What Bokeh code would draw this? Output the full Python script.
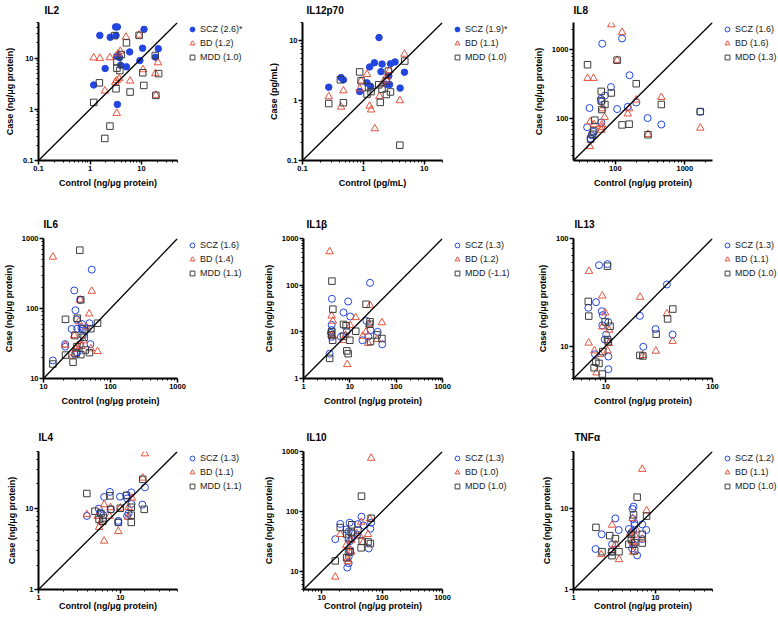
import math
from bokeh.plotting import figure
from bokeh.layouts import column, row
from bokeh.models import (FixedTicker, NumeralTickFormatter, Legend, LegendItem, Slope)
from bokeh.embed import file_html
from bokeh.resources import INLINE

# ---------------- data ----------------
il2_scz_x = [1.55, 2.47, 3.14, 3.4, 3.2, 11.2, 21.2, 10.5, 5.9, 3.5, 3.3, 3.76, 18.7, 9.3, 3.93, 5.1, 1.97, 1.18, 3.4]
il2_scz_y = [28, 25.7, 41, 41, 28, 36.7, 15.4, 15.7, 13.3, 11.4, 10.9, 10.3, 10.5, 9.0, 7.3, 6.8, 6.3, 3.0, 1.25]
il2_bd_x = [1.18, 1.55, 2.44, 5.0, 9.0, 3.87, 3.5, 20.9, 10.7, 18.5, 3.7, 3.3, 3.1, 6.0, 1.94, 19, 3.3]
il2_bd_y = [10.2, 10, 10.3, 26, 28.5, 13.7, 12.3, 8.2, 6.0, 5.0, 4.0, 3.7, 3.4, 3.6, 2.3, 1.9, 0.84]
il2_mdd_x = [9.0, 5.1, 3.0, 4.06, 18.5, 3.33, 3.33, 3.8, 10.6, 21.5, 1.52, 3.2, 6.0, 11.1, 19, 1.18, 2.44, 1.94]
il2_mdd_y = [28, 20, 27.7, 11.8, 11.3, 8.5, 6.4, 5.75, 5.2, 5.0, 3.3, 2.53, 2.18, 2.94, 1.88, 1.37, 0.47, 0.27]

il12_scz_x = [1.81, 3.32, 1.52, 2.79, 2.03, 1.27, 1.95, 4.74, 2.62, 0.43, 0.47, 1.15, 2.39, 2.7, 1.32, 0.27, 4.02, 0.87]
il12_scz_y = [11.2, 4.4, 4.26, 4.1, 4.06, 3.63, 3.03, 2.96, 2.57, 2.41, 2.21, 1.97, 1.87, 1.85, 1.71, 1.67, 1.61, 1.41]
il12_bd_x = [4.74, 1.15, 0.92, 2.4, 2.7, 0.47, 0.87, 2.03, 0.27, 1.84, 3.98, 0.43, 1.27, 1.34, 1.54, 2.4]
il12_bd_y = [5.95, 2.74, 2.13, 2.55, 3.16, 1.46, 1.57, 1.9, 1.16, 1.17, 1.0, 0.78, 0.81, 0.70, 0.34, 2.2]
il12_mdd_x = [4.8, 0.87, 2.58, 0.42, 0.92, 2.39, 1.79, 1.22, 2.03, 1.34, 2.79, 1.15, 2.39, 0.27, 0.47, 1.9, 3.98]
il12_mdd_y = [4.55, 3.0, 3.1, 2.22, 2.13, 2.13, 1.83, 1.69, 1.55, 1.41, 1.39, 1.28, 1.26, 0.89, 0.92, 0.93, 0.18]

il8_scz_x = [64.8, 125, 160, 86.5, 70.8, 62, 64, 106, 42.5, 200, 151, 291, 459, 1667, 39.3, 63, 48.5, 45.4, 44]
il8_scz_y = [1232, 1468, 430, 290, 218, 195, 179, 139, 144, 173, 150, 103, 83, 127, 76, 89, 65, 58, 52]
il8_bd_x = [87.5, 125, 106, 39.8, 48.5, 459, 200, 158, 151, 64.8, 70, 43.5, 49.6, 64, 64, 63, 295, 1667, 43]
il8_bd_y = [2327, 1807, 711, 389, 389, 206, 189, 141, 119, 141, 106, 91, 83, 83, 76, 69, 60, 74, 40]
il8_mdd_x = [106, 39.8, 200, 62.7, 87.5, 70.8, 62.7, 459, 1667, 125, 158, 50.7, 49, 47, 44, 295, 64]
il8_mdd_y = [711, 611, 324, 251, 238, 162, 183, 162, 128, 82, 84, 96, 67, 60, 51, 59, 137]

il6_scz_x = [52.5, 28.8, 35.2, 30, 31.5, 37.6, 48.5, 26.3, 31.8, 36.8, 42, 50.2, 21.1, 21.1, 35.2, 32, 29.4, 13.8, 38.5]
il6_scz_y = [359, 181, 133, 94.6, 69.5, 60, 61.6, 51, 51.5, 52.8, 48.3, 31, 31, 28.5, 31, 23.6, 21.9, 18.1, 41]
il6_bd_x = [13.8, 52.5, 35.2, 48, 33.6, 43.5, 28.8, 39.8, 21.1, 31.5, 36.8, 51, 64.1, 27, 30]
il6_bd_y = [545, 177, 133, 84, 65, 55, 41.4, 34.7, 30, 28.8, 28.8, 26.7, 24.4, 20.9, 26.3]
il6_mdd_x = [34.8, 36, 21.3, 32, 64.1, 51, 38.5, 40.3, 29.4, 31.5, 42, 48.5, 36, 30.7, 21.3, 27.6, 13.8]
il6_mdd_y = [681, 133, 70, 72.6, 61.6, 51.6, 51, 38.8, 41, 28.5, 25.5, 23.4, 21.9, 22.8, 21.6, 17.1, 16.1]

il1b_scz_x = [27.3, 4.1, 9.2, 7.3, 10.2, 22.8, 4.05, 4.05, 3.9, 8.6, 28, 39.8, 25, 18.7, 50, 3.67, 4.05, 6.4]
il1b_scz_y = [112, 51, 44.7, 26, 21.3, 17.2, 14.1, 10.9, 9.5, 10.2, 10.9, 10, 7.9, 6.6, 5.4, 3.4, 7.8, 7.8]
il1b_bd_x = [3.67, 27.3, 4.05, 4.3, 13.4, 49.3, 26, 10.2, 22.4, 19, 4.05, 4.3, 8.1, 38.5, 25, 7.2, 8.8]
il1b_bd_y = [525, 36.7, 22, 17, 20.3, 15.8, 14.4, 13.7, 10, 8.1, 8.6, 8.1, 8.5, 6.9, 5.7, 6.6, 2.0]
il1b_mdd_x = [4.1, 22.4, 4.3, 27.3, 26.8, 7.3, 8.3, 13.4, 4.05, 4.05, 7.3, 4.25, 10, 49.3, 38.5, 28, 8.6, 9.2, 3.67]
il1b_mdd_y = [122, 39, 30.6, 16.4, 14.5, 14.4, 13.5, 10.3, 10, 8.6, 8.1, 6.6, 6.6, 7.2, 8.6, 6.2, 3.9, 3.4, 2.7]

il13_scz_x = [37.4, 8.67, 10.4, 8.13, 6.88, 9.2, 9.4, 20.9, 10.6, 9.3, 29.3, 10.1, 42.3, 9.8, 22.5, 7.95, 10.6, 10.6]
il13_scz_y = [37.4, 56.5, 57.8, 25.6, 22.7, 21.1, 19.4, 19.1, 16.7, 15.6, 14.4, 12.8, 12.8, 11.5, 9.86, 8.4, 8.0, 6.1]
il13_bd_x = [6.98, 9.3, 21, 9.9, 37.4, 9.3, 10.8, 6.94, 42.3, 10.7, 10.4, 7.84, 29.5, 8.9, 22.3, 8.2]
il13_bd_y = [49.7, 29.3, 28.5, 20.4, 20, 15.1, 14.1, 10.7, 11.1, 10.6, 9.06, 9.06, 9.0, 8.4, 8.2, 5.65]
il13_mdd_x = [6.88, 10.4, 6.94, 42.5, 38, 9.9, 11, 29.7, 10.4, 10.6, 9.4, 20.9, 22.3, 8.1, 8.66, 7.8, 9.3]
il13_mdd_y = [26, 55.3, 19, 22.1, 17.9, 16.8, 15.3, 12.9, 11.5, 11, 8.9, 8.2, 8.1, 7.1, 6.9, 6.3, 5.5]

il4_scz_x = [20, 7.45, 6.34, 9.9, 13.6, 11.9, 12.1, 13.7, 18.6, 5.44, 5.65, 6.2, 3.9, 7.7, 12.1, 9.45, 9.45, 12.6]
il4_scz_y = [18.1, 15.9, 13.8, 13.9, 15.7, 14.4, 13.2, 11.3, 11.1, 9.9, 8.85, 8.2, 8.05, 9.7, 8.05, 7.0, 6.7, 8.6]
il4_bd_x = [20, 18.8, 3.9, 6.34, 7.6, 10, 12.6, 13.9, 5.3, 7.4, 12.4, 5.8, 5.5, 9.45, 6.34]
il4_bd_y = [47, 23.6, 8.4, 11.1, 10.2, 10.1, 10.3, 13.4, 8.0, 8.0, 7.8, 6.8, 5.84, 5.2, 3.96]
il4_mdd_x = [3.9, 7.45, 11.9, 18.8, 4.9, 7.6, 10, 13.6, 19.6, 5.8, 13.6, 5.5, 6.1, 9.45, 13.6, 6.2]
il4_mdd_y = [15.2, 14.2, 14.4, 22.7, 9.2, 9.7, 10, 10.3, 9.7, 8.6, 8.2, 7.3, 6.9, 6.7, 6.7, 7.6]

il10_scz_x = [45.6, 20.3, 29, 39.7, 49.2, 65.9, 64, 25.5, 28, 39, 16.8, 31.6, 29.3, 60, 28, 28, 26.5, 32.8, 29.6]
il10_scz_y = [82, 62, 65, 61.5, 58.5, 65, 51.5, 50, 46.5, 41, 34.5, 35.3, 32, 24.2, 17.7, 13.7, 11.6, 42.7, 22.7]
il10_bd_x = [65.9, 20.3, 45, 63, 37.7, 42.8, 58.5, 30.9, 48.5, 25.5, 28, 30.9, 26.5, 27.2, 16.8]
il10_bd_y = [776, 41.6, 66.4, 75.4, 42.7, 39, 41.6, 33.2, 30.4, 27.4, 25.1, 21.3, 16.1, 14.6, 8.1]
il10_mdd_x = [45.6, 65.9, 20.3, 25.9, 39.7, 30.9, 31.6, 46.8, 58.5, 64, 45, 27.8, 29.6, 25.9, 16.8, 27.8]
il10_mdd_y = [180, 77, 54, 42.2, 49, 44.8, 60, 32, 31.1, 29.2, 24.8, 21.3, 21.3, 17, 15, 36.2]

tnf_scz_x = [5.42, 3.25, 5.27, 5.57, 5.3, 6.92, 3.57, 4.75, 5.1, 7.75, 2.21, 5.36, 6.92, 2.96, 5.42, 1.86, 5.2, 2.96, 6.0, 5.6]
tnf_scz_y = [10.5, 7.5, 9.8, 6.53, 7.4, 6.34, 5.4, 5.56, 5.0, 5.4, 4.78, 5.25, 4.18, 3.6, 3.6, 3.15, 3.2, 2.92, 2.63, 6.2]
tnf_bd_x = [6.92, 7.82, 2.96, 5.27, 5.9, 5.6, 4.93, 3.28, 5.2, 5.36, 2.9, 2.19, 3.6, 5.36, 6.92]
tnf_bd_y = [30.3, 9.36, 6.22, 7.53, 5.41, 4.69, 4.96, 3.6, 3.95, 3.8, 3.0, 2.7, 2.34, 2.89, 4.18]
tnf_mdd_x = [6.0, 5.42, 7.82, 1.88, 2.77, 3.25, 5.1, 6.92, 5.1, 4.75, 6.92, 5.6, 3.6, 5.6, 2.23, 2.96, 2.93]
tnf_mdd_y = [13.7, 8.3, 8.0, 5.82, 4.6, 4.23, 4.78, 4.78, 4.15, 3.6, 3.73, 3.77, 2.92, 3.0, 2.92, 2.61, 2.92]

titles = ["IL2", "IL12p70", "IL8", "IL6", "IL1β", "IL13", "IL4", "IL10", "TNFα"]
units = ["ng/μg protein", "pg/mL", "ng/μg protein", "ng/μg protein", "ng/μg protein",
         "ng/μg protein", "ng/μg protein", "ng/μg protein", "ng/μg protein"]
axis_ranges = [(0.1, 50), (0.1, 20), (25, 2500), (10, 1000), (1, 1000),
               (5, 100), (1, 50), (5, 1000), (1, 50)]
major_ticks = [[0.1, 1, 10], [0.1, 1, 10], [100, 1000], [10, 100, 1000], [1, 10, 100, 1000],
               [10, 100], [1, 10], [10, 100, 1000], [1, 10]]
legend_labels = [
    ["SCZ (2.6)*", "BD (1.2)", "MDD (1.0)"],
    ["SCZ (1.9)*", "BD (1.1)", "MDD (1.0)"],
    ["SCZ (1.6)", "BD (1.6)", "MDD (1.3)"],
    ["SCZ (1.6)", "BD (1.4)", "MDD (1.1)"],
    ["SCZ (1.3)", "BD (1.2)", "MDD (-1.1)"],
    ["SCZ (1.3)", "BD (1.1)", "MDD (1.0)"],
    ["SCZ (1.3)", "BD (1.1)", "MDD (1.1)"],
    ["SCZ (1.3)", "BD (1.0)", "MDD (1.0)"],
    ["SCZ (1.2)", "BD (1.1)", "MDD (1.0)"],
]
scz_filled = [True, True, False, False, False, False, False, False, False]
series = [
    ((il2_scz_x, il2_scz_y), (il2_bd_x, il2_bd_y), (il2_mdd_x, il2_mdd_y)),
    ((il12_scz_x, il12_scz_y), (il12_bd_x, il12_bd_y), (il12_mdd_x, il12_mdd_y)),
    ((il8_scz_x, il8_scz_y), (il8_bd_x, il8_bd_y), (il8_mdd_x, il8_mdd_y)),
    ((il6_scz_x, il6_scz_y), (il6_bd_x, il6_bd_y), (il6_mdd_x, il6_mdd_y)),
    ((il1b_scz_x, il1b_scz_y), (il1b_bd_x, il1b_bd_y), (il1b_mdd_x, il1b_mdd_y)),
    ((il13_scz_x, il13_scz_y), (il13_bd_x, il13_bd_y), (il13_mdd_x, il13_mdd_y)),
    ((il4_scz_x, il4_scz_y), (il4_bd_x, il4_bd_y), (il4_mdd_x, il4_mdd_y)),
    ((il10_scz_x, il10_scz_y), (il10_bd_x, il10_bd_y), (il10_mdd_x, il10_mdd_y)),
    ((tnf_scz_x, tnf_scz_y), (tnf_bd_x, tnf_bd_y), (tnf_mdd_x, tnf_mdd_y)),
]

# ---------------- styling / layout ----------------
FONT = "Liberation Sans"
BLUE = "#2446e0"
RED = "#e5533d"
GREY = "#3d3d3d"

COL_LEFT = [38, 42, 53]       # left border of each plot (px)
COL_FRAME = [139, 140, 139]   # frame width
COL_W = [260, 260, 258]       # total column width (plot + legend strip)
RIGHT_PAD = 9                 # room for the last x tick label
ROW_TOP = [21, 38, 41]
ROW_FRAME = [139, 140, 138]
ROW_H = [200, 210, 208]
XLABEL_STANDOFF = [4, 4, -2]
TITLE_STANDOFF = [9, 14, 14]
TITLE_DX = [6, 4, 0, 0, 3, 1, 0, 3, 1]


def minor_ticks(lo, hi):
    out = []
    for d in range(math.floor(math.log10(lo)) - 1, math.ceil(math.log10(hi)) + 1):
        for m in range(2, 10):
            v = m * 10 ** d
            if lo * 0.999 <= v <= hi * 1.001:
                out.append(round(v, 6))
    return out


def style_marker(p, k, filled, xs, ys):
    if k == 0:
        if filled:
            return p.scatter(xs, ys, marker="circle", size=6.5, fill_color=BLUE, line_color=BLUE)
        return p.scatter(xs, ys, marker="circle", size=7, fill_color=None, line_color=BLUE, line_width=1)
    if k == 1:
        return p.scatter(xs, ys, marker="triangle", size=7.5, fill_color=None, line_color=RED, line_width=1)
    return p.scatter(xs, ys, marker="square", size=6.5, fill_color=None, line_color=GREY, line_width=1)


def make_panel(i):
    r, c = divmod(i, 3)
    lo, hi = axis_ranges[i]
    H = ROW_H[r]
    fw, fh = COL_FRAME[c], ROW_FRAME[r]
    W = COL_LEFT[c] + fw + RIGHT_PAD
    p = figure(width=W, height=H, x_axis_type="log", y_axis_type="log",
               x_range=(lo, hi), y_range=(lo, hi), title=titles[i],
               toolbar_location=None, output_backend="svg",
               min_border_left=COL_LEFT[c], min_border_right=RIGHT_PAD,
               min_border_top=ROW_TOP[r], min_border_bottom=H - ROW_TOP[r] - fh)
    p.outline_line_color = None
    p.xgrid.visible = False
    p.ygrid.visible = False

    p.title.align = "left"
    p.title.vertical_align = "top"
    p.title.offset = TITLE_DX[i]
    p.title.standoff = TITLE_STANDOFF[r]
    p.title.text_font = FONT
    p.title.text_font_size = "10px"
    p.title.text_font_style = "bold"
    p.title.text_color = "black"

    p.xaxis.axis_label = "Control (%s)" % units[i]
    p.yaxis.axis_label = "Case (%s)" % units[i]
    p.xaxis.axis_label_standoff = XLABEL_STANDOFF[r]
    p.yaxis.axis_label_standoff = 5

    for ax in (p.xaxis[0], p.yaxis[0]):
        ax.ticker = FixedTicker(ticks=major_ticks[i], minor_ticks=minor_ticks(lo, hi))
        ax.formatter = NumeralTickFormatter(format="0.[0]")
        ax.axis_line_width = 2
        ax.axis_line_color = "black"
        ax.major_tick_line_color = "black"
        ax.minor_tick_line_color = "black"
        ax.major_tick_line_width = 1.5
        ax.major_tick_out = 4
        ax.major_tick_in = 0
        ax.minor_tick_out = 2
        ax.minor_tick_in = 0
        ax.minor_tick_line_width = 1
        ax.major_label_text_font = FONT
        ax.major_label_text_font_size = "7.5px"
        ax.major_label_text_font_style = "bold"
        ax.major_label_text_color = "black"
        ax.major_label_standoff = 1
        ax.axis_label_text_font = FONT
        ax.axis_label_text_font_size = "9px"
        ax.axis_label_text_font_style = "bold"
        ax.axis_label_text_color = "black"

    p.add_layout(Slope(gradient=1, y_intercept=0, line_color="black", line_width=1.3))

    for k, (xs, ys) in enumerate(series[i]):
        style_marker(p, k, scz_filled[i], xs, ys)

    # legend strip: a bare figure holding the library legend; its renderers carry the
    # same series, but its ranges keep them out of view so only the legend shows
    LW = COL_W[c] - W
    q = figure(width=LW, height=H, x_range=(-2, -1), y_range=(-2, -1), title=None,
               toolbar_location=None, output_backend="svg",
               x_axis_location=None, y_axis_location=None,
               min_border_left=0, min_border_right=0, min_border_top=0, min_border_bottom=0)
    q.outline_line_color = None
    q.grid.visible = False
    legend_renderers = [style_marker(q, k, scz_filled[i], xs, ys)
                        for k, (xs, ys) in enumerate(series[i])]
    items = [LegendItem(label=legend_labels[i][k], renderers=[legend_renderers[k]]) for k in range(3)]
    leg = Legend(items=items, location="top_left",
                 orientation="vertical", glyph_width=12, glyph_height=14, label_height=14,
                 label_standoff=2, spacing=0, padding=0, margin=0,
                 border_line_color=None, background_fill_alpha=0,
                 label_text_font=FONT, label_text_font_size="9px", label_text_color="#222222")
    q.add_layout(leg)
    return [p, q]


cells = [make_panel(i) for i in range(9)]
rows = []
for rr in range(3):
    kids = []
    for cc in range(3):
        kids.extend(cells[rr * 3 + cc])
    rows.append(row(*kids))
layout = column(*rows)

open("out.html", "w").write(file_html(layout, INLINE))
